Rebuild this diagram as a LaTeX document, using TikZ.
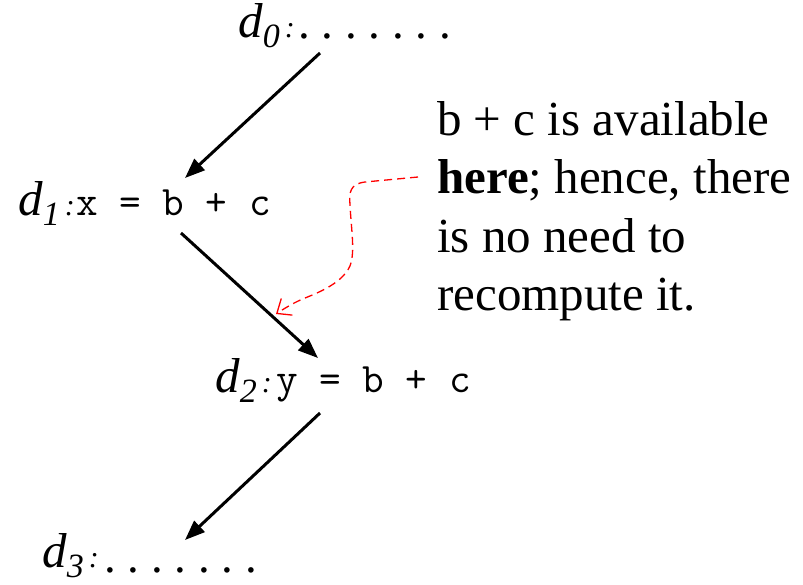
\documentclass[tikz,border=0pt]{standalone}
\usepackage{fontspec}
\setmainfont{Liberation Serif}
\usetikzlibrary{arrows.meta}
\newcommand{\dlab}[1]{\textit{d}\raisebox{-0.22em}{\fontsize{34pt}{34pt}\selectfont\textit{#1}}{\fontsize{30pt}{30pt}\selectfont\,\textit{:}}}
\tikzset{
  lab/.style={anchor=base west, inner sep=0pt, font=\fontsize{49pt}{58pt}\selectfont},
  code/.style={anchor=base west, inner sep=0pt, font=\fontsize{42pt}{44pt}\selectfont\ttfamily},
  dots/.style={anchor=base west, inner sep=0pt, font=\fontsize{47pt}{50pt}\selectfont\frenchspacing},
  txt/.style={anchor=base west, inner sep=0pt, font=\fontsize{49pt}{58pt}\selectfont},
  flow/.style={line width=3pt, -{Triangle[length=20pt,width=15pt]}},
  note/.style={red, line width=1.3pt, dash pattern=on 8pt off 5pt, -{Straight Barb[length=12pt,width=20pt,line width=1.3pt]}}
}
\begin{document}
\begin{tikzpicture}[x=1pt,y=-1pt]
\useasboundingbox (0,0) rectangle (803,584);
% labels
\node[lab] (d0) at (238,37) {\dlab{0}};
\node[dots] (l0) at (298,38) {. . . . . . .};
\node[lab] (d1) at (18,215) {\dlab{1}};
\node[code] (l1) at (76,215) {x~= b + c};
\node[lab] (d2) at (215,392) {\dlab{2}};
\node[code] (l2) at (276,392) {y = b + c};
\node[lab] (d3) at (42,567) {\dlab{3}};
\node[dots] (l3) at (104,572) {. . . . . . .};
% note text
\node[txt] (t1) at (437,135) {b + c is available};
\node[txt] (t2) at (437,193) {\textbf{here}; hence, there};
\node[txt] (t3) at (437,252) {is no need to};
\node[txt] (t4) at (437,310) {recompute it.};
% connector ends
\coordinate (a0) at (320,53);
\coordinate (b1) at (185,178);
\coordinate (a1) at (181,233);
\coordinate (b2) at (318,358);
\coordinate (a2) at (320,413);
\coordinate (b3) at (185,540);
\coordinate (ns) at (418,177);
\coordinate (ne) at (276,314);
\draw[flow] (a0) -- (b1);
\draw[flow] (a1) -- (b2);
\draw[flow] (a2) -- (b3);
\draw[note] (ns) -- (365,182) .. controls (350,184) and (349,192) .. (350,205)
  .. controls (351,225) and (354,245) .. (352,258)
  .. controls (350,280) and (320,292) .. (305,298)
  .. controls (295,302) and (285,308) .. (ne);
\end{tikzpicture}
\end{document}
